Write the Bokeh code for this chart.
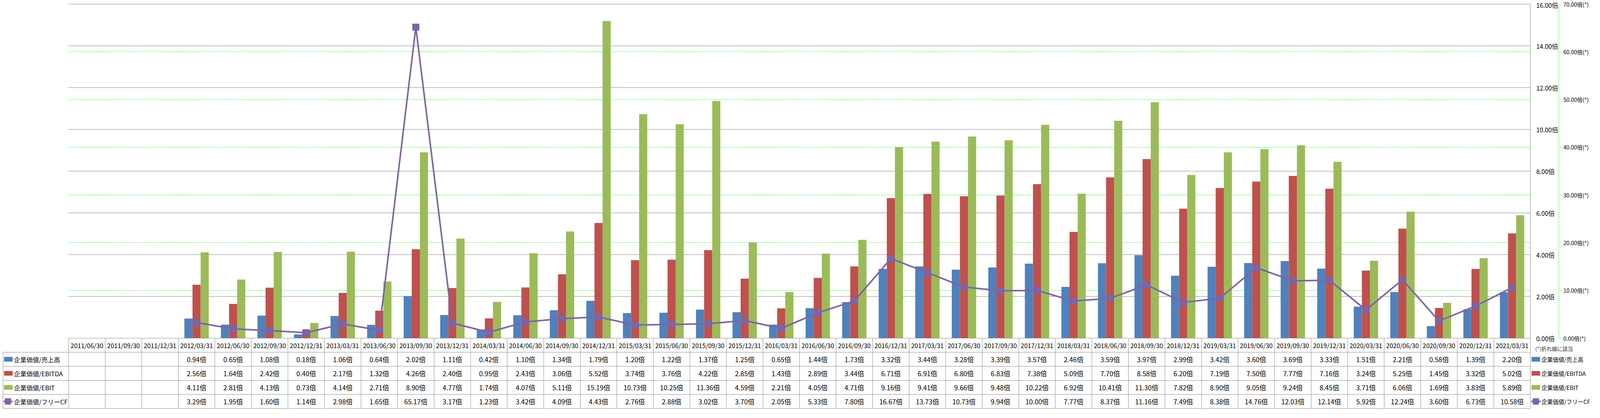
from bokeh.plotting import figure
from bokeh.models import (ColumnDataSource, Range1d, LinearAxis, FixedTicker,
                          PrintfTickFormatter, Grid)
from bokeh.transform import dodge
from bokeh.core.properties import value
from bokeh.embed import file_html
from bokeh.resources import INLINE

# ---------------- data ----------------
categories = ["2011/06/30", "2011/09/30", "2011/12/31",
              "2012/03/31", "2012/06/30", "2012/09/30", "2012/12/31",
              "2013/03/31", "2013/06/30", "2013/09/30", "2013/12/31",
              "2014/03/31", "2014/06/30", "2014/09/30", "2014/12/31",
              "2015/03/31", "2015/06/30", "2015/09/30", "2015/12/31",
              "2016/03/31", "2016/06/30", "2016/09/30", "2016/12/31",
              "2017/03/31", "2017/06/30", "2017/09/30", "2017/12/31",
              "2018/03/31", "2018/06/30", "2018/09/30", "2018/12/31",
              "2019/03/31", "2019/06/30", "2019/09/30", "2019/12/31",
              "2020/03/31", "2020/06/30", "2020/09/30", "2020/12/31",
              "2021/03/31"]

ev_sales = [None, None, None,
            0.94, 0.65, 1.08, 0.18, 1.06, 0.64, 2.02, 1.11, 0.42, 1.10, 1.34, 1.79,
            1.20, 1.22, 1.37, 1.25, 0.65, 1.44, 1.73, 3.32, 3.44, 3.28, 3.39, 3.57,
            2.46, 3.59, 3.97, 2.99, 3.42, 3.60, 3.69, 3.33, 1.51, 2.21, 0.58, 1.39,
            2.20]
ev_ebitda = [None, None, None,
             2.56, 1.64, 2.42, 0.40, 2.17, 1.32, 4.26, 2.40, 0.95, 2.43, 3.06, 5.52,
             3.74, 3.76, 4.22, 2.85, 1.43, 2.89, 3.44, 6.71, 6.91, 6.80, 6.83, 7.38,
             5.09, 7.70, 8.58, 6.20, 7.19, 7.50, 7.77, 7.16, 3.24, 5.25, 1.45, 3.32,
             5.02]
ev_ebit = [None, None, None,
           4.11, 2.81, 4.13, 0.73, 4.14, 2.71, 8.90, 4.77, 1.74, 4.07, 5.11, 15.19,
           10.73, 10.25, 11.36, 4.59, 2.21, 4.05, 4.71, 9.16, 9.41, 9.66, 9.48, 10.22,
           6.92, 10.41, 11.30, 7.82, 8.90, 9.05, 9.24, 8.45, 3.71, 6.06, 1.69, 3.83,
           5.89]
ev_fcf = [None, None, None,
          3.29, 1.95, 1.60, 1.14, 2.98, 1.65, 65.17, 3.17, 1.23, 3.42, 4.09, 4.43,
          2.76, 2.88, 3.02, 3.70, 2.05, 5.33, 7.80, 16.67, 13.73, 10.73, 9.94, 10.00,
          7.77, 8.37, 11.16, 7.49, 8.38, 14.76, 12.03, 12.14, 5.92, 12.24, 3.60, 6.73,
          10.58]

series_names = ["企業価値/売上高", "企業価値/EBITDA", "企業価値/EBIT", "企業価値/フリーCF"]
left_ticks = [0, 2, 4, 6, 8, 10, 12, 14, 16]
right_ticks = [0, 10, 20, 30, 40, 50, 60, 70]
note_text = "(*)折れ線に該当"

# ---------------- style ----------------
FONT = "Noto Sans CJK JP"
BLUE, RED, GREEN, PURPLE = "#4F81BD", "#C0504D", "#9BBB59", "#8064A2"
PURPLE_EDGE = "#7A5E9E"
GRID_GRAY = "#868686"
TABLE_GRAY = "#8C8C8C"
LIME = "#00FF00"

N = len(categories)
LMAX, RMAX = left_ticks[-1], right_ticks[-1]
nan = float("nan")


def arr(vals):
    return [nan if v is None else v for v in vals]


src = ColumnDataSource(dict(xc=[i + 0.5 for i in range(N)], cat=categories,
                            sales=arr(ev_sales), ebitda=arr(ev_ebitda),
                            ebit=arr(ev_ebit), fcf=arr(ev_fcf)))

# ---------------- layout (CSS px; the viewport is about 4096 px wide) ----------------
FX = 4096 / 5877                # horizontal factor from the reference's pixels
CANVAS_W, CANVAS_H = 4072, 1048
X0 = 263 * FX - 8               # left edge of first category column on the canvas
X1 = 5632 * FX - 8              # right edge of the plot area
CAT_PX = (X1 - X0) / N
DEV = 134.225                   # one category width in the reference's pixels
Y16, Y0 = 10.0, 866.0           # canvas y of the top and the zero of the value scale
PXU = (Y0 - Y16) / LMAX
ROW_PX = 36.0
ROW = ROW_PX / PXU              # one table row in value units

XL = -X0 / CAT_PX
XR = (CANVAS_W - X0) / CAT_PX
YT = LMAX + Y16 / PXU
YB = -(CANVAS_H - Y0) / PXU
SCALE2 = RMAX / LMAX


def rel(d):
    return d / DEV


p = figure(x_range=Range1d(XL, XR), y_range=Range1d(YB, YT),
           width=CANVAS_W, height=CANVAS_H, min_border=0,
           x_axis_location=None, y_axis_location=None,
           output_backend="svg", toolbar_location=None)
p.xgrid.visible = False
p.ygrid.visible = False
p.outline_line_color = None
p.background_fill_color = "white"
p.border_fill_color = "white"
p.extra_y_ranges = {"sec": Range1d(YB * SCALE2, YT * SCALE2)}

# gridlines
p.add_layout(Grid(dimension=1, ticker=FixedTicker(ticks=left_ticks), cross_bounds=(0, N),
                  grid_line_color=GRID_GRAY, grid_line_width=1))
p.add_layout(Grid(dimension=1, ticker=FixedTicker(ticks=right_ticks[1:-1]), y_range_name="sec",
                  cross_bounds=(0, N), grid_line_color=LIME, grid_line_dash="3 2",
                  grid_line_width=1))

# value axes at the right of the plot area
ax1 = LinearAxis(fixed_location=N, bounds=(0, LMAX), ticker=FixedTicker(ticks=left_ticks),
                 formatter=PrintfTickFormatter(format="%.2f倍"),
                 axis_line_color=GRID_GRAY, axis_line_width=1,
                 major_tick_out=0, major_tick_in=0, minor_tick_out=0, minor_tick_in=0,
                 major_label_standoff=15,
                 major_label_text_font=FONT, major_label_text_font_size="16px",
                 major_label_text_color="black")
p.add_layout(ax1, "right")
ax2 = LinearAxis(y_range_name="sec", fixed_location=N + rel(104), bounds=(0, RMAX),
                 ticker=FixedTicker(ticks=right_ticks),
                 formatter=PrintfTickFormatter(format="%.2f倍(*)"),
                 axis_line_color=LIME, axis_line_dash="3 2", axis_line_width=1,
                 major_tick_line_color=LIME, major_tick_line_dash="3 2",
                 major_tick_out=5, major_tick_in=0, minor_tick_out=0, minor_tick_in=0,
                 major_label_standoff=7,
                 major_label_text_font=FONT, major_label_text_font_size="14px",
                 major_label_text_color="black")
p.add_layout(ax2, "right")

# bars and line
W = 1 / 4.5
for field, off, color in [("sales", -W, BLUE), ("ebitda", 0, RED), ("ebit", W, GREEN)]:
    p.vbar(x=dodge("xc", off), top=field, width=W, source=src,
           fill_color=color, line_color=None)
p.line(x="xc", y="fcf", source=src, y_range_name="sec", line_color=PURPLE,
       line_width=4, line_join="round")
p.scatter(x="xc", y="fcf", source=src, y_range_name="sec", marker="square", size=17,
          fill_color=PURPLE, line_color=PURPLE_EDGE, line_width=1)

# ---------------- data table ----------------
LEG_L = -rel(241)
x0s, y0s, x1s, y1s = [0], [0], [N], [0]
for k in range(1, 6):
    x0s.append(LEG_L); y0s.append(-k * ROW); x1s.append(N); y1s.append(-k * ROW)
x0s.append(LEG_L); y0s.append(-ROW); x1s.append(LEG_L); y1s.append(-5 * ROW)
for i in range(N + 1):
    x0s.append(i); y0s.append(0); x1s.append(i); y1s.append(-5 * ROW)
p.segment(x0=x0s, y0=y0s, x1=x1s, y1=y1s, line_color=TABLE_GRAY, line_width=1)

p.text(x="xc", y=-0.5 * ROW, text="cat", source=src, text_font=value(FONT),
       text_font_size="16px", text_align="center", text_baseline="middle",
       text_color="black")

row_y = [-1.5 * ROW, -2.5 * ROW, -3.5 * ROW, -4.5 * ROW]
cx, cy, ct = [], [], []
for vals, yy in zip([ev_sales, ev_ebitda, ev_ebit, ev_fcf], row_y):
    for i, v in enumerate(vals):
        if v is not None:
            cx.append(i + 0.5); cy.append(yy); ct.append(f"{v:.2f}倍")
p.text(x=cx, y=cy, text=ct, text_font=value(FONT), text_font_size="17px",
       text_align="center", text_baseline="middle", text_color="black")

# legend keys in the table's first column
p.rect(x=[LEG_L + rel(19.5)] * 3, y=row_y[:3], width=22, height=12,
       width_units="screen", height_units="screen",
       fill_color=[BLUE, RED, GREEN], line_color=None)
p.segment(x0=[LEG_L + rel(2)], y0=[row_y[3]], x1=[LEG_L + rel(35)], y1=[row_y[3]],
          line_color=PURPLE, line_width=4)
p.scatter(x=[LEG_L + rel(18)], y=[row_y[3]], marker="square", size=15,
          fill_color=PURPLE, line_color=PURPLE_EDGE)
p.text(x=[LEG_L + rel(40)] * 4, y=row_y, text=series_names, text_font=value(FONT),
       text_font_size="16px", text_align="left", text_baseline="middle",
       text_color="black")

# legend to the right of the table
p.text(x=[N + rel(18)], y=[-0.74 * ROW], text=[note_text], text_font=value(FONT),
       text_font_size="13.5px", text_align="left", text_baseline="middle",
       text_color="#333333")
p.rect(x=[N + rel(20)] * 3, y=row_y[:3], width=22, height=12,
       width_units="screen", height_units="screen",
       fill_color=[BLUE, RED, GREEN], line_color=None)
p.segment(x0=[N + rel(3)], y0=[row_y[3]], x1=[N + rel(38)], y1=[row_y[3]],
          line_color=PURPLE, line_width=4)
p.scatter(x=[N + rel(20)], y=[row_y[3]], marker="square", size=15,
          fill_color=PURPLE, line_color=PURPLE_EDGE)
p.text(x=[N + rel(41)] * 4, y=row_y, text=series_names, text_font=value(FONT),
       text_font_size="14.5px", text_align="left", text_baseline="middle",
       text_color="black")

open("out.html", "w").write(file_html(p, INLINE, title="企業価値倍率"))
